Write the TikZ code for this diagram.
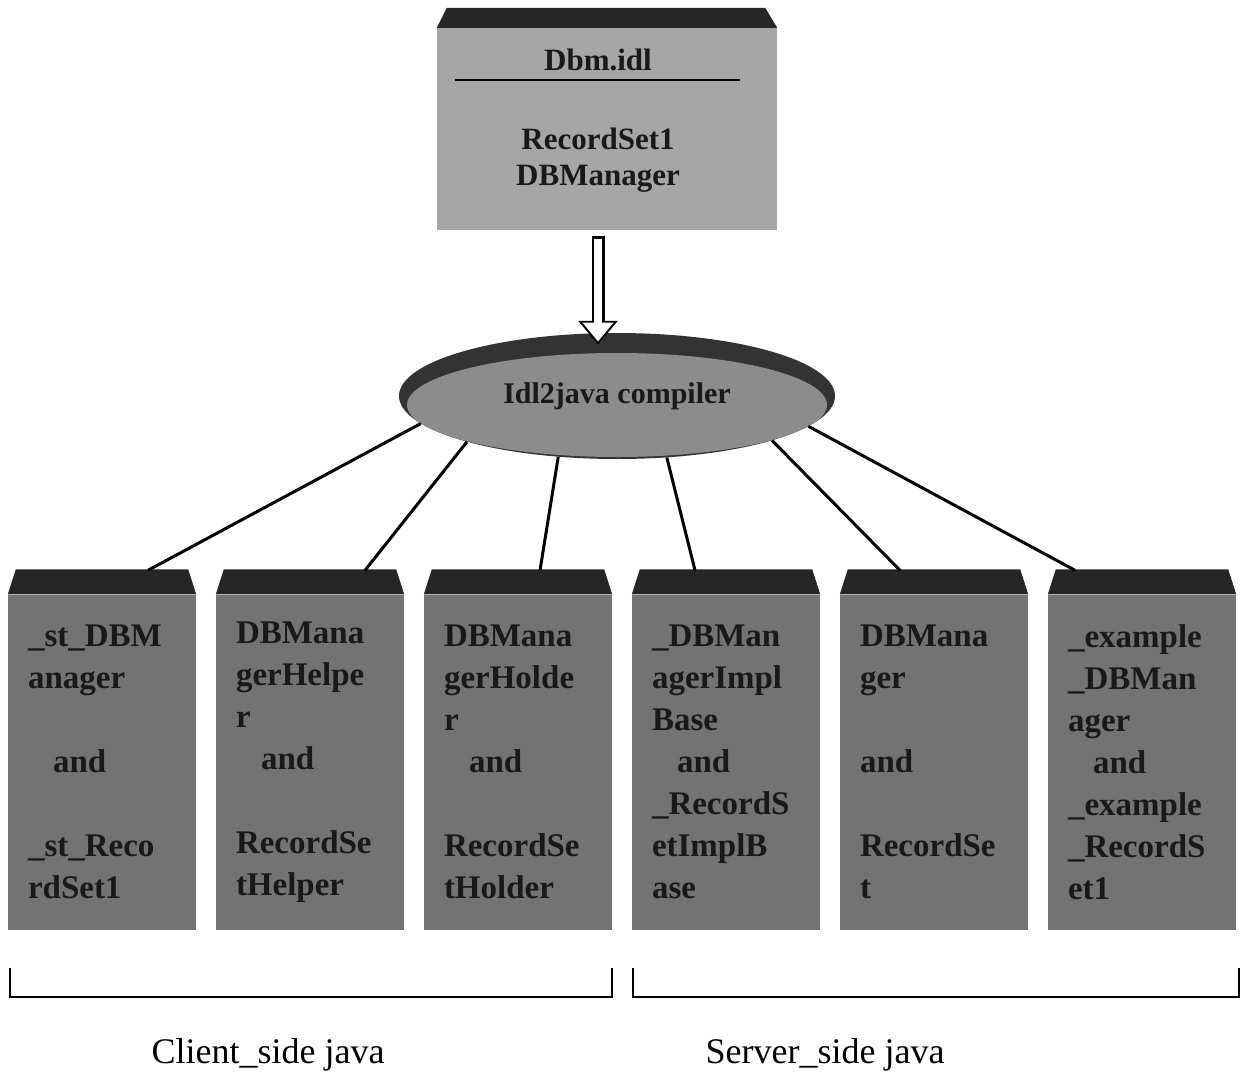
\documentclass[tikz,border=0pt]{standalone}
\usepackage{fontspec}
\setmainfont{Liberation Serif}
\usetikzlibrary{calc,shapes.geometric,arrows.meta}
\begin{document}
\begin{tikzpicture}[x=1pt,y=-1pt,
  idlbox/.style={fill=black!35, minimum width=340pt, minimum height=202pt, inner sep=0pt},
  idltext/.style={text=black!90, align=center, font=\bfseries\fontsize{31}{36}\selectfont},
  compiler/.style={ellipse, fill=black!80, minimum width=436pt, minimum height=126pt, inner sep=0pt,
    text=black!90, font=\bfseries\fontsize{30}{36}\selectfont,
    path picture={\fill[black!45] ($(path picture bounding box.center)+(0pt,-9pt)$) ellipse [x radius=210pt, y radius=52pt];}},
  javabox/.style={fill=black!55, minimum width=188pt, minimum height=335pt, text width=148pt, inner sep=0pt,
    align=left, text=black!90, font=\bfseries\fontsize{33}{42}\selectfont},
  bevel/.style={fill=black!85},
  link/.style={line width=3pt},
  bracket/.style={line width=1.6pt},
  caption/.style={font=\fontsize{36}{40}\selectfont}]
\useasboundingbox (0,0) rectangle (1242,1076);

\node[idlbox] (dbm) at (607,129) {};
\fill[bevel] (dbm.north west) -- ($(dbm.north west)+(10,-20)$) -- ($(dbm.north east)+(-12,-20)$) -- (dbm.north east) -- cycle;
\node[idltext] (dbmname) at (598,60) {Dbm.idl};
\draw[line width=2pt] ($(dbm.north west)+(18,52)$) -- ($(dbm.north east)+(-37,52)$);
\node[idltext] (dbmifs) at (598,160) {RecordSet1\\DBManager};

\node[compiler] (comp) at (617,396) {Idl2java compiler};

\draw[line width=13pt, -{Triangle[length=24pt,width=38pt]}] ($(dbm.south)+(-9,6)$) -- ($(comp.north)+(-19,12)$);
\draw[line width=8pt, white, shorten <=2.5pt, shorten >=3.3pt, -{Triangle[length=19pt,width=30pt]}] ($(dbm.south)+(-9,6)$) -- ($(comp.north)+(-19,12)$);

\node[javabox] (b1) at (102,762) {\_st\_DBM\\anager\\~\\\hspace*{25pt}and\\~\\\_st\_Reco\\rdSet1};
\node[javabox] (b2) at (310,762) {DBMana\\gerHelpe\\r\\\hspace*{25pt}and\\~\\RecordSe\\tHelper};
\node[javabox] (b3) at (518,762) {DBMana\\gerHolde\\r\\\hspace*{25pt}and\\~\\RecordSe\\tHolder};
\node[javabox] (b4) at (726,762) {\_DBMan\\agerImpl\\Base\\\hspace*{25pt}and\\\_RecordS\\etImplB\\ase};
\node[javabox] (b5) at (934,762) {DBMana\\ger\\~\\and\\~\\RecordSe\\t};
\node[javabox] (b6) at (1142,762) {\_example\\\_DBMan\\ager\\\hspace*{25pt}and\\\_example\\\_RecordS\\et1};

\foreach \n in {b1,b2,b3,b4,b5,b6}
  \fill[bevel] (\n.north west) -- ($(\n.north west)+(8,-25)$) -- ($(\n.north east)+(-8,-25)$) -- (\n.north east) -- cycle;

\foreach \n/\a/\dx in {b1/188/46, b2/197/55, b3/226/22, b4/309/-31, b5/344/-34, b6/351/-67}
  \draw[link] (comp.\a) -- ($(\n.north)+(\dx,-24)$);

\draw[bracket] ($(b1.south west)+(2,38)$) -- ++(0,29) -- ($(b3.south east)+(0,67)$) -- ++(0,-29);
\draw[bracket] ($(b4.south west)+(1,38)$) -- ++(0,29) -- ($(b6.south east)+(3,67)$) -- ++(0,-29);

\node[caption] (client) at (268,1055) {Client\_side java};
\node[caption] (server) at (825,1055) {Server\_side java};
\end{tikzpicture}
\end{document}
